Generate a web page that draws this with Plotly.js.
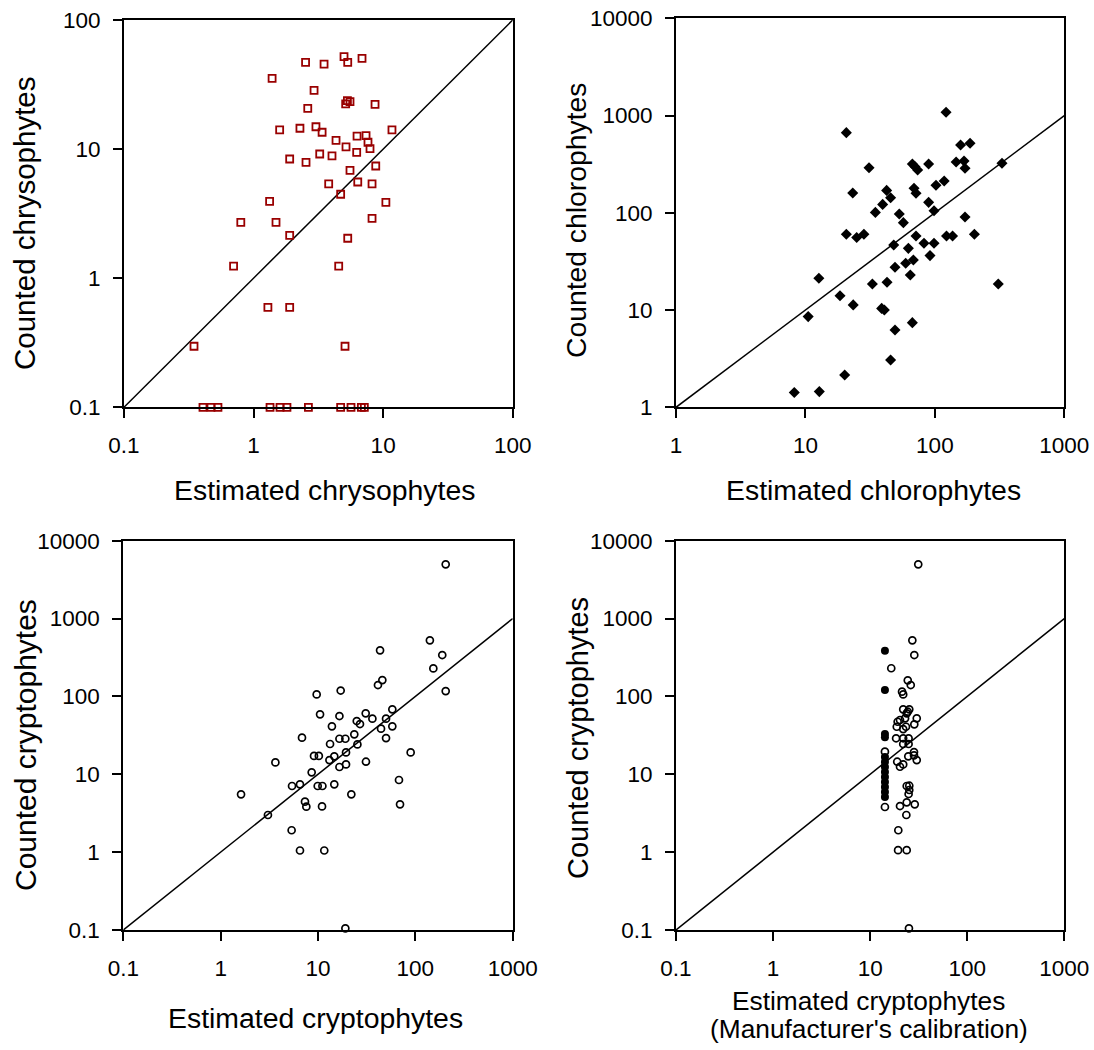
<!DOCTYPE html>
<html>
<head>
<meta charset="utf-8">
<script src="https://cdn.plot.ly/plotly-3.0.1.min.js"></script>
<style>html,body{margin:0;padding:0;background:#fff;}#chart{width:1094px;height:1050px;}</style>
</head>
<body>
<div id="chart"></div>
<script>
// ---- Panel 1: chrysophytes ----
const chrysoEst = [2.52,3.50,4.99,5.33,6.87,1.39,2.93,5.30,5.55,5.14,8.66,2.62,1.59,2.28,3.03,3.38,11.7,4.33,6.29,7.38,7.64,5.17,7.92,6.25,3.24,4.03,1.90,2.54,8.77,5.55,3.80,6.37,8.21,4.70,1.33,10.5,0.797,1.49,8.21,1.90,5.33,0.701,4.54,1.29,1.90,0.347,5.08,0.407,0.469,0.531,1.34,1.60,1.81,2.65,4.70,5.65,6.79,7.16];
const chrysoCnt = [47,45.6,52,47,50.5,35.3,28.5,23.7,23.3,22.4,22.2,20.7,14.1,14.5,14.9,13.5,14.1,11.7,12.6,12.7,11.3,10.4,10.1,9.44,9.16,8.85,8.38,7.89,7.40,6.85,5.37,5.56,5.37,4.47,3.94,3.87,2.71,2.71,2.91,2.15,2.04,1.24,1.24,0.594,0.594,0.297,0.297,0.1,0.1,0.1,0.1,0.1,0.1,0.1,0.1,0.1,0.1,0.1];

// ---- Panel 2: chlorophytes ----
const chloroEst = [122,20.7,158,187,146,168,171,330,89.5,67,70.3,73.6,31,23.2,42.4,45.5,39.5,34.7,69,71.5,102,118,89.5,98.5,53.1,57.1,171,20.7,24.9,28.3,71.5,123,137,202,48.1,82.4,98.5,62.4,91.7,68.2,59.5,49.2,64.6,12.7,32.9,42.7,309,18.5,23.4,38.8,40.7,10.5,67,49.2,45.5,20.1,8.20,12.8];
const chloroCnt = [1080,667,498,518,333,341,287,323,318,318,298,276,291,160,170,143,122,101,179,159,192,212,128,105,97.3,79.2,90.6,60.1,55.6,60.1,57.8,57.8,57.8,60.1,46.7,48.6,48.6,43.1,36.3,32.7,30.3,27.5,22.9,21.2,18.5,19.3,18.5,14.0,11.3,10.4,10.0,8.56,7.42,6.24,3.07,2.15,1.42,1.45];

// ---- Panel 3: cryptophytes ----
const cryptoEst = [205,141,189,153,205,43.4,45.8,41.3,17.1,9.69,10.5,16.6,30.9,36.2,25,27,58,50,13.9,44.4,58,23.6,6.85,16.6,19.1,50,13.3,25.4,89.5,19.4,9.1,10.2,14.7,13.1,3.65,31.1,19.4,16.6,8.61,5.41,6.53,9.93,11.1,14.7,67.9,1.62,22,7.35,7.59,11.0,69.6,3.06,5.36,6.53,11.6,19.1];
const cryptoCnt = [4970,525,340,229,117,391,162,140,119,106,58.9,56,60.7,51.8,48.3,44.2,68.2,51.8,41.3,38.5,41.3,32.6,29.5,28.6,28.6,29.2,24.5,24.2,19.1,19.1,17.2,17.2,17.0,15.2,14.2,14.5,13.4,12.4,10.6,7.07,7.43,7.07,7.07,7.43,8.44,5.52,5.52,4.45,3.84,3.87,4.11,3.0,1.91,1.05,1.05,0.105];

// ---- Panel 4: cryptophytes, manufacturer's calibration ----
const mfrEst = [31.3,27.2,28.5,16.5,24.4,26.2,21.3,21.9,21.9,25.3,23.8,24.4,30.2,19.2,20.3,22.9,28.5,18.8,21.9,23.4,18.5,21.9,24.9,21.9,24.9,28.3,28.3,24.7,30.2,19.0,21.9,20.3,23.8,25.3,25.3,24.9,20.3,23.8,28.8,23.6,19.5,19.4,23.8,25.1,14.2,14.2];
const mfrCnt = [4970,525,340,230,161,140,115,106,68.2,68.2,60.7,63.6,52.3,47.3,49.8,52.3,43.8,40.8,38.1,40.8,29.0,29.0,29.0,24.5,24.5,19.3,17.5,17.0,15.2,14.5,13.4,12.5,7.07,7.13,6.28,5.58,3.91,4.36,4.11,3.0,1.91,1.06,1.06,0.105,19.5,3.80];
const mfrFilledEst = [14.2,14.2,14.2,14.2,14.2,14.2,14.2,14.2,14.2,14.2,14.2,14.2,14.2];
const mfrFilledCnt = [386,121,32.9,29.8,16.7,14.4,12.4,10.7,9.22,7.96,6.86,5.92,5.1];

// 1:1 reference lines (axis extents)
const line1 = [0.1, 100];
const line2 = [1, 1000];
const line3 = [0.1, 1000];
const line4 = [0.1, 1000];

// tick labels
const ticks1 = [0.1, 1, 10, 100];
const ticks2x = [1, 10, 100, 1000];
const ticks2y = [1, 10, 100, 1000, 10000];
const ticks3x = [0.1, 1, 10, 100, 1000];
const ticks3y = [0.1, 1, 10, 100, 1000, 10000];
const lab = v => String(v);

const W = 1094, H = 1050;
const FONT = '"Liberation Sans", Arial, Helvetica, sans-serif';

function lineTrace(v, xa, ya) {
  return {x: v, y: v, xaxis: xa, yaxis: ya, mode: 'lines', type: 'scatter',
          line: {color: '#000', width: 1.5}, hoverinfo: 'skip', showlegend: false};
}
function ptTrace(x, y, xa, ya, marker) {
  return {x: x, y: y, xaxis: xa, yaxis: ya, mode: 'markers', type: 'scatter',
          marker: marker, cliponaxis: false, showlegend: false};
}

const data = [
  lineTrace(line1, 'x', 'y'),
  ptTrace(chrysoEst, chrysoCnt, 'x', 'y', {symbol: 'square-open', size: 7, color: '#990000', line: {width: 1.8, color: '#990000'}}),
  lineTrace(line2, 'x2', 'y2'),
  ptTrace(chloroEst, chloroCnt, 'x2', 'y2', {symbol: 'diamond', size: 8.5, color: '#000', line: {width: 0}}),
  lineTrace(line3, 'x3', 'y3'),
  ptTrace(cryptoEst, cryptoCnt, 'x3', 'y3', {symbol: 'circle-open', size: 7, color: '#000', line: {width: 1.7, color: '#000'}}),
  lineTrace(line4, 'x4', 'y4'),
  ptTrace(mfrFilledEst, mfrFilledCnt, 'x4', 'y4', {symbol: 'circle', size: 8, color: '#000', line: {width: 0}}),
  ptTrace(mfrEst, mfrCnt, 'x4', 'y4', {symbol: 'circle-open', size: 7, color: '#000', line: {width: 1.7, color: '#000'}})
];

function ax(range, vals, dom, standoff) {
  return {
    type: 'log', range: range, domain: dom, autorange: false,
    tickmode: 'array', tickvals: vals, ticktext: vals.map(lab),
    showline: true, linecolor: '#000', linewidth: 2, mirror: true,
    ticks: 'outside', ticklen: 9, tickwidth: 2, tickcolor: '#000',
    showgrid: false, zeroline: false, fixedrange: true,
    ticklabelstandoff: standoff,
    tickfont: {family: FONT, size: 22.5, color: '#000'}
  };
}
const dx = (a, b) => [a / W, b / W];
const dy = (top, bot) => [1 - bot / H, 1 - top / H];

const layout = {
  width: W, height: H,
  margin: {l: 0, r: 0, t: 0, b: 0},
  paper_bgcolor: '#fff', plot_bgcolor: '#fff',
  showlegend: false,
  font: {family: FONT, color: '#000'},
  xaxis:  Object.assign(ax([-1, 2], ticks1, dx(124, 512.7), 8), {anchor: 'y'}),
  yaxis:  Object.assign(ax([-1, 2], ticks1, dy(20, 407.3), 8), {anchor: 'x'}),
  xaxis2: Object.assign(ax([0, 3], ticks2x, dx(676, 1064.3), 8), {anchor: 'y2'}),
  yaxis2: Object.assign(ax([0, 4], ticks2y, dy(18.3, 407.3), 8), {anchor: 'x2'}),
  xaxis3: Object.assign(ax([-1, 3], ticks3x, dx(123.3, 512.7), 8), {anchor: 'y3'}),
  yaxis3: Object.assign(ax([-1, 4], ticks3y, dy(540.7, 930), 8), {anchor: 'x3'}),
  xaxis4: Object.assign(ax([-1, 3], ticks3x, dx(676, 1064.3), 8), {anchor: 'y4'}),
  yaxis4: Object.assign(ax([-1, 4], ticks3y, dy(540.7, 930), 8), {anchor: 'x4'}),
  annotations: [
    {text: 'Estimated chrysophytes', x: 324 / W, y: 1 - 490 / H, size: 28.4},
    {text: 'Counted chrysophytes', x: 25 / W, y: 1 - 223 / H, textangle: -90, size: 29.5},
    {text: 'Estimated chlorophytes', x: 873 / W, y: 1 - 490 / H, size: 28.4},
    {text: 'Counted chlorophytes', x: 576 / W, y: 1 - 221 / H, textangle: -90, size: 28.3},
    {text: 'Estimated cryptophytes', x: 315 / W, y: 1 - 1018 / H, size: 28.4},
    {text: 'Counted cryptophytes', x: 25 / W, y: 1 - 745 / H, textangle: -90, size: 30},
    {text: 'Estimated cryptophytes', x: 868 / W, y: 1 - 1001 / H, size: 26.3},
    {text: "(Manufacturer's calibration)", x: 869 / W, y: 1 - 1029 / H, size: 26.3},
    {text: 'Counted cryptophytes', x: 578 / W, y: 1 - 738 / H, textangle: -90, size: 29}
  ].map(a => ({
    text: a.text, x: a.x, y: a.y, xref: 'paper', yref: 'paper',
    xanchor: 'center', yanchor: 'middle', showarrow: false,
    textangle: a.textangle || 0,
    font: {family: FONT, size: a.size, color: '#000'}
  }))
};

Plotly.newPlot('chart', data, layout, {staticPlot: true, displayModeBar: false});
</script>
</body>
</html>
